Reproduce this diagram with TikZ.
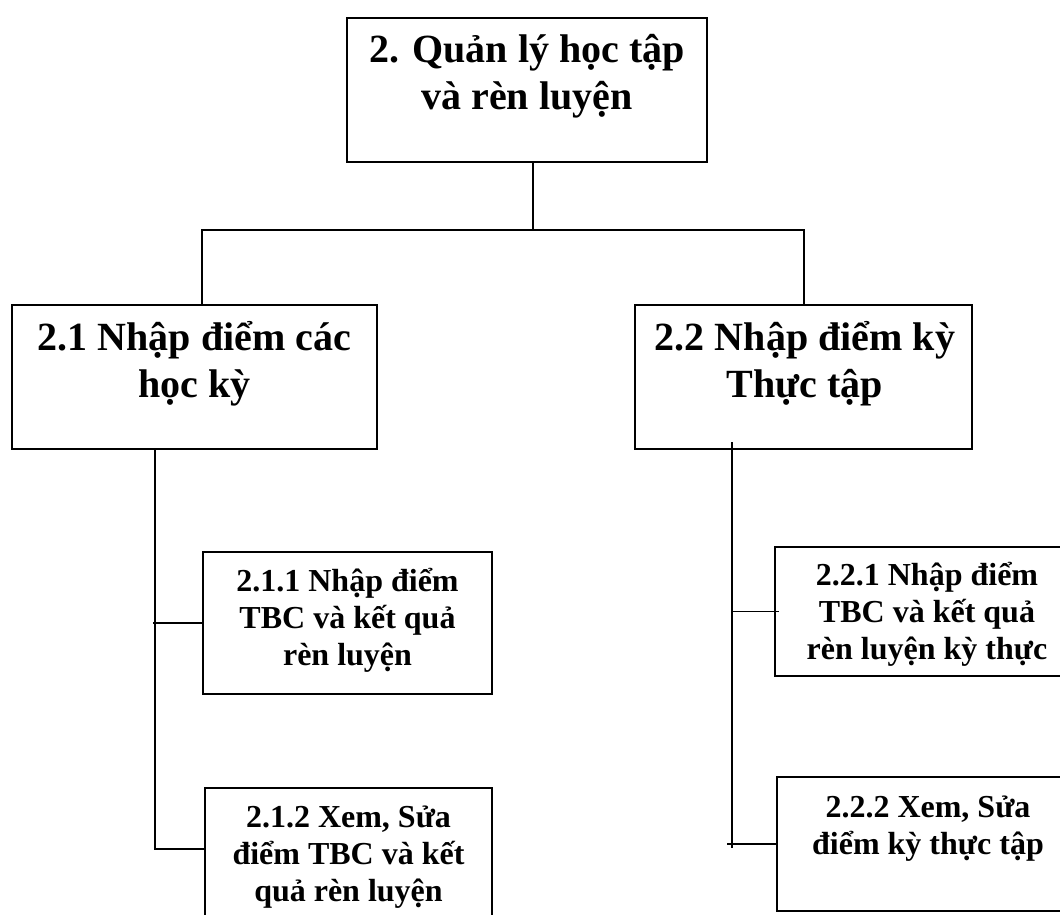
\documentclass[tikz,border=0pt]{standalone}
\usepackage{fontspec}
\setmainfont{Liberation Serif}
\begin{document}
\begin{tikzpicture}[x=1pt,y=-1pt,
  box/.style={draw=black,line width=2pt,fill=white,rectangle,inner sep=0pt},
  conn/.style={draw=black,line width=1.4pt},
  bigtext/.style={anchor=base,inner sep=0pt,align=flush center,text width=340pt,
    font=\fontsize{40}{47}\selectfont\bfseries},
  smalltext/.style={anchor=base,inner sep=0pt,align=flush center,text width=280pt,
    font=\fontsize{32}{37}\selectfont\bfseries}]
\useasboundingbox (0,0) rectangle (1060,915);
\fill[white] (0,0) rectangle (1060,915);
\clip (0,0) rectangle (1060,915);

% boxes (corner to corner)
\node[box,minimum width=360pt,minimum height=144pt] (T)    at (527,90) {};
\node[box,minimum width=365pt,minimum height=144pt] (B21)  at (194.5,377) {};
\node[box,minimum width=337pt,minimum height=144pt] (B22)  at (803.5,377) {};
\node[box,minimum width=289pt,minimum height=142pt] (B211) at (347.5,623) {};
\node[box,minimum width=287pt,minimum height=180pt] (B212) at (348.5,878) {};
\node[box,minimum width=304pt,minimum height=129pt] (B221) at (927,611.5) {};
\node[box,minimum width=302pt,minimum height=134pt] (B222) at (928,844) {};

% box captions
\node[bigtext] (tT)   at (527,63)   {2. Quản lý học tập\\và rèn luyện};
\node[bigtext] (t21)  at (194.5,350) {2.1 Nhập điểm các\\học kỳ};
\node[bigtext] (t22)  at (805,350)  {2.2 Nhập điểm kỳ\\Thực tập};
\node[smalltext] (t211) at (347.5,591) {2.1.1 Nhập điểm\\TBC và kết quả\\rèn luyện};
\node[smalltext] (t212) at (348.5,827) {2.1.2 Xem, Sửa\\điểm TBC và kết\\quả rèn luyện};
\node[smalltext] (t221) at (927,585)  {2.2.1 Nhập điểm\\TBC và kết quả\\rèn luyện kỳ thực};
\node[smalltext] (t222) at (928,817)  {2.2.2 Xem, Sửa\\điểm kỳ thực tập};

% junction points
\coordinate (jT) at (533,230);
\coordinate (jL) at (202,230);
\coordinate (jR) at (804,230);
\coordinate (sL) at (155,849);
\coordinate (sR) at (732,848);
\coordinate (kR) at (727,844);

% top level fork
\draw[conn] (jT |- T.south) -- (jT);
\draw[conn] (jL |- B21.north) -- (jL) -- (jR) -- (jR |- B22.north);

% left branch
\draw[conn] (sL |- B21.south) -- (sL) -- (sL -| B212.west);
\draw[conn] (B211.west) -- (B211.west -| sL) -- ++(-2,0);

% right branch
\draw[conn] ([yshift=8pt]B22.south -| sR) -- (sR);
\draw[conn] (sR |- B221.west) -- ([xshift=5pt]B221.west);
\draw[conn] (kR) -- (kR -| B222.west);
\end{tikzpicture}
\end{document}
